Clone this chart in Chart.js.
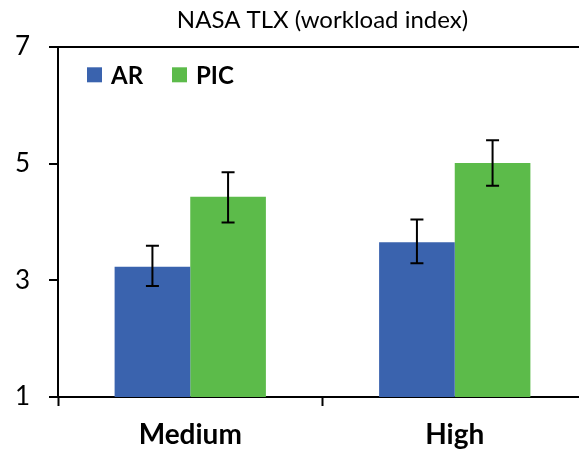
<!DOCTYPE html>
<html>
<head>
<meta charset="utf-8">
<script src="https://cdn.jsdelivr.net/npm/chart.js@4/dist/chart.umd.min.js"></script>
<style>
  html, body { margin: 0; padding: 0; background: #fff; overflow: hidden; }
  #wrap { width: 587px; height: 453px; }
</style>
</head>
<body>
<div id="wrap"><canvas id="tlxChart" width="587" height="453"></canvas></div>
<script>
// ---------------------- data ----------------------
const categories = ['Medium', 'High'];
const seriesNames = ['AR', 'PIC'];
const arValues = [3.23, 3.65];
const picValues = [4.43, 5.01];
// error bar ends (low / high)
const arLow = [2.90, 3.29];
const arHigh = [3.59, 4.04];
const picLow = [3.99, 4.62];
const picHigh = [4.85, 5.40];
const yTicks = [1, 3, 5, 7];

const BLUE = '#3A63AE';
const GREEN = '#5CBB4A';

// ---------------------- error bars + legend ----------------------
const errorBarPlugin = {
  id: 'errorBars',
  afterDatasetsDraw(chart) {
    const { ctx, scales: { y } } = chart;
    ctx.save();
    ctx.strokeStyle = '#000';
    ctx.lineWidth = 2;
    chart.data.datasets.forEach((ds, i) => {
      const meta = chart.getDatasetMeta(i);
      meta.data.forEach((bar, j) => {
        const top = y.getPixelForValue(ds.errHigh[j]);
        const bot = y.getPixelForValue(ds.errLow[j]);
        const x = bar.x;
        ctx.beginPath();
        ctx.moveTo(x, top); ctx.lineTo(x, bot);
        ctx.moveTo(x - 6.5, top); ctx.lineTo(x + 6.5, top);
        ctx.moveTo(x - 6.5, bot); ctx.lineTo(x + 6.5, bot);
        ctx.stroke();
      });
    });
    ctx.restore();
  }
};

const legendPlugin = {
  id: 'insideLegend',
  afterDraw(chart) {
    const { ctx, chartArea } = chart;
    ctx.save();
    ctx.font = 'bold 24px Lato';
    ctx.textBaseline = 'middle';
    let x = chartArea.left + 29;
    const yMid = chartArea.top + 28;
    chart.data.datasets.forEach((ds) => {
      ctx.fillStyle = ds.backgroundColor;
      ctx.fillRect(x, yMid - 7.5, 15, 15);
      ctx.fillStyle = '#000';
      ctx.fillText(ds.label, x + 24, yMid + 1);
      x += 85;
    });
    ctx.restore();
  }
};

// ---------------------- chart ----------------------
const ctx = document.getElementById('tlxChart').getContext('2d');

new Chart(ctx, {
  type: 'bar',
  data: {
    labels: categories,
    datasets: [
      { label: seriesNames[0], data: arValues, errLow: arLow, errHigh: arHigh,
        backgroundColor: BLUE, borderWidth: 0 },
      { label: seriesNames[1], data: picValues, errLow: picLow, errHigh: picHigh,
        backgroundColor: GREEN, borderWidth: 0 }
    ]
  },
  options: {
    responsive: false,
    devicePixelRatio: 1,
    animation: false,
    categoryPercentage: 0.572,
    barPercentage: 1,
    layout: { padding: 0 },
    scales: {
      x: {
        grid: {
          offset: true,
          drawOnChartArea: false,
          tickLength: 9,
          tickColor: '#000',
          tickWidth: 2
        },
        border: { display: true, color: '#000', width: 2 },
        ticks: {
          color: '#000',
          font: { family: 'Lato', size: 28, weight: 'bold' },
          padding: 12
        },
        afterFit: (scale) => { scale.height = 56; }
      },
      y: {
        min: 1,
        max: 7,
        afterBuildTicks: (scale) => { scale.ticks = yTicks.map(v => ({ value: v })); },
        grid: {
          color: (c) => (c.tick && c.tick.value === 7 ? '#000' : 'rgba(0,0,0,0)'),
          lineWidth: 2,
          tickLength: 9,
          tickColor: '#000',
          tickWidth: 2
        },
        border: { display: true, color: '#000', width: 2 },
        ticks: {
          color: '#000',
          font: { family: 'Lato', size: 26 },
          padding: 19
        },
        afterFit: (scale) => { scale.width = 58; }
      }
    },
    plugins: {
      legend: { display: false },
      tooltip: { enabled: false },
      title: {
        display: true,
        fullSize: false,
        text: 'NASA TLX (workload index)',
        color: '#000',
        font: { family: 'Lato', size: 24, weight: 'normal', lineHeight: 1.2 },
        padding: { top: 6, bottom: 12 }
      }
    }
  },
  plugins: [errorBarPlugin, legendPlugin]
});
</script>
</body>
</html>
